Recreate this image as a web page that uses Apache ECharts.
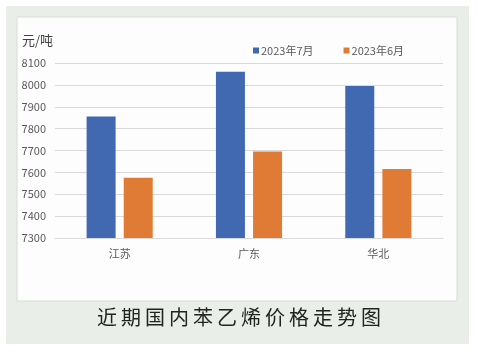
<!DOCTYPE html>
<html><head><meta charset="utf-8">
<script src="https://cdn.jsdelivr.net/npm/echarts@6/dist/echarts.min.js"></script>
<style>html,body{margin:0;padding:0;background:#fff;}#c{width:478px;height:357px;}</style>
</head><body><div id="c"></div>
<script>
const categories = ['江苏', '广东', '华北'];
const seriesNames = ['2023年7月', '2023年6月'];
const july = [7855, 8060, 7995];
const june = [7575, 7695, 7615];
const yTicks = [7300, 7400, 7500, 7600, 7700, 7800, 7900, 8000, 8100];
const titleText = '近期国内苯乙烯价格走势图';
const unitText = '元/吨';

const chart = echarts.init(document.getElementById('c'), null, {renderer: 'canvas'});
const font = '"Noto Sans CJK SC", "Noto Sans", sans-serif';
chart.setOption({
  animation: false,
  backgroundColor: '#ffffff',
  graphic: [
    {type: 'rect', z: -10, shape: {x: 6, y: 6, width: 463, height: 338}, style: {fill: '#e9eee8'}},
    {type: 'rect', z: -9, shape: {x: 17, y: 17, width: 440, height: 284}, style: {fill: '#fdfdfd', stroke: '#d9dcd8', lineWidth: 1}},
    {type: 'text', left: 22, top: 34, style: {text: unitText, fontSize: 13, fill: '#404040', fontFamily: font}},
    {type: 'text', left: 'center', top: 307, style: {text: titleText.split('').join('\u2009'), fontSize: 20, fill: '#222222', fontFamily: font}}
  ],
  legend: {
    top: 40, left: 248,
    itemWidth: 6, itemHeight: 6, itemGap: 30,
    icon: 'rect',
    textStyle: {fontSize: 11, color: '#595959', fontFamily: font, padding: [0, 0, 0, -3]},
    data: seriesNames
  },
  grid: {left: 55, right: 35, top: 63, bottom: 119, containLabel: false},
  xAxis: {
    type: 'category', data: categories,
    axisTick: {show: false},
    axisLine: {lineStyle: {color: '#d9d9d9'}},
    axisLabel: {fontSize: 11, color: '#595959', margin: 10, fontFamily: font}
  },
  yAxis: {
    type: 'value', min: yTicks[0], max: yTicks[yTicks.length - 1], interval: 100,
    axisLine: {show: false}, axisTick: {show: false},
    splitLine: {lineStyle: {color: '#d9d9d9'}},
    axisLabel: {fontSize: 11, color: '#595959', margin: 9, fontFamily: font, formatter: v => String(v)}
  },
  series: [
    {name: seriesNames[0], type: 'bar', data: july, barWidth: 29, barGap: '28%', itemStyle: {color: '#4169b2'}},
    {name: seriesNames[1], type: 'bar', data: june, barWidth: 29, itemStyle: {color: '#e07b35'}}
  ]
});
</script></body></html>
